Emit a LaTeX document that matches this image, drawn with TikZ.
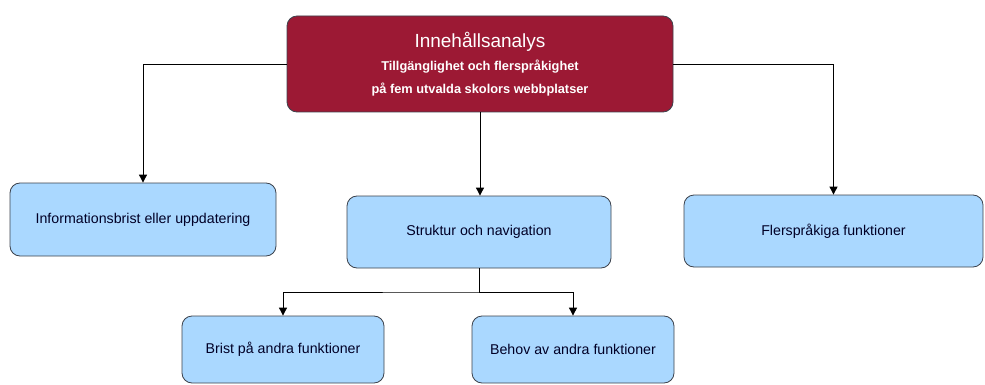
\documentclass[tikz,border=0pt]{standalone}
\usepackage{fontspec}
\setmainfont{Liberation Sans}
\usepackage{tikz}
\usetikzlibrary{arrows.meta}
\usepackage{xcolor}
\definecolor{ColTop}{RGB}{156,25,52}
\definecolor{ColBox}{RGB}{170,216,255}
\definecolor{ColLine}{RGB}{60,66,76}
\tikzstyle{BoxTop}=[rectangle,rounded corners=10pt,draw=ColLine,fill=ColTop,line width=0.8pt,
text=white,align=center,minimum width=386pt,minimum height=96pt,inner sep=0pt,
font=\bfseries\fontsize{12.8}{23}\selectfont]
\tikzstyle{BoxSub}=[rectangle,rounded corners=10pt,draw=ColLine,fill=ColBox,line width=0.8pt,
text=black!85!blue,font=\fontsize{14.2}{16}\selectfont,inner sep=0pt]
\tikzstyle{EdgeTree}=[black,line width=0.9pt,-{Triangle[width=8pt,length=8pt]}]

\begin{document}
\begin{tikzpicture}[x=1pt,y=-1pt]
        \useasboundingbox(0,0)rectangle(985,385);
        \node[BoxTop](top)at(480,64){{\mdseries\fontsize{19}{23}\selectfont Innehållsanalys}\\
            Tillgänglighet och flerspråkighet\\
            på fem utvalda skolors webbplatser};
        \node[BoxSub,minimum width=266pt,minimum height=73pt](info)at(143,219.5){Informationsbrist eller uppdatering};
        \node[BoxSub,minimum width=264pt,minimum height=72pt](struk)at(479,232){Struktur och navigation};
        \node[BoxSub,minimum width=299pt,minimum height=72pt](fler)at(833.5,231){Flerspråkiga funktioner};
        \node[BoxSub,minimum width=202pt,minimum height=67pt](brist)at(283,349.5){Brist på andra funktioner};
        \node[BoxSub,minimum width=202pt,minimum height=67pt](behov)at(573,349.5){Behov av andra funktioner};
        \coordinate(split)at(480,292);
        \draw[EdgeTree](top.west)-|(info.north);
        \draw[EdgeTree](top.east)-|(fler.north);
        \draw[EdgeTree](top.south)--(top.south|-struk.north);
        \draw[EdgeTree](struk.south)|-(split)-|(brist.north);
        \draw[EdgeTree](split)-|(behov.north);
    \end{tikzpicture}
\end{document}
